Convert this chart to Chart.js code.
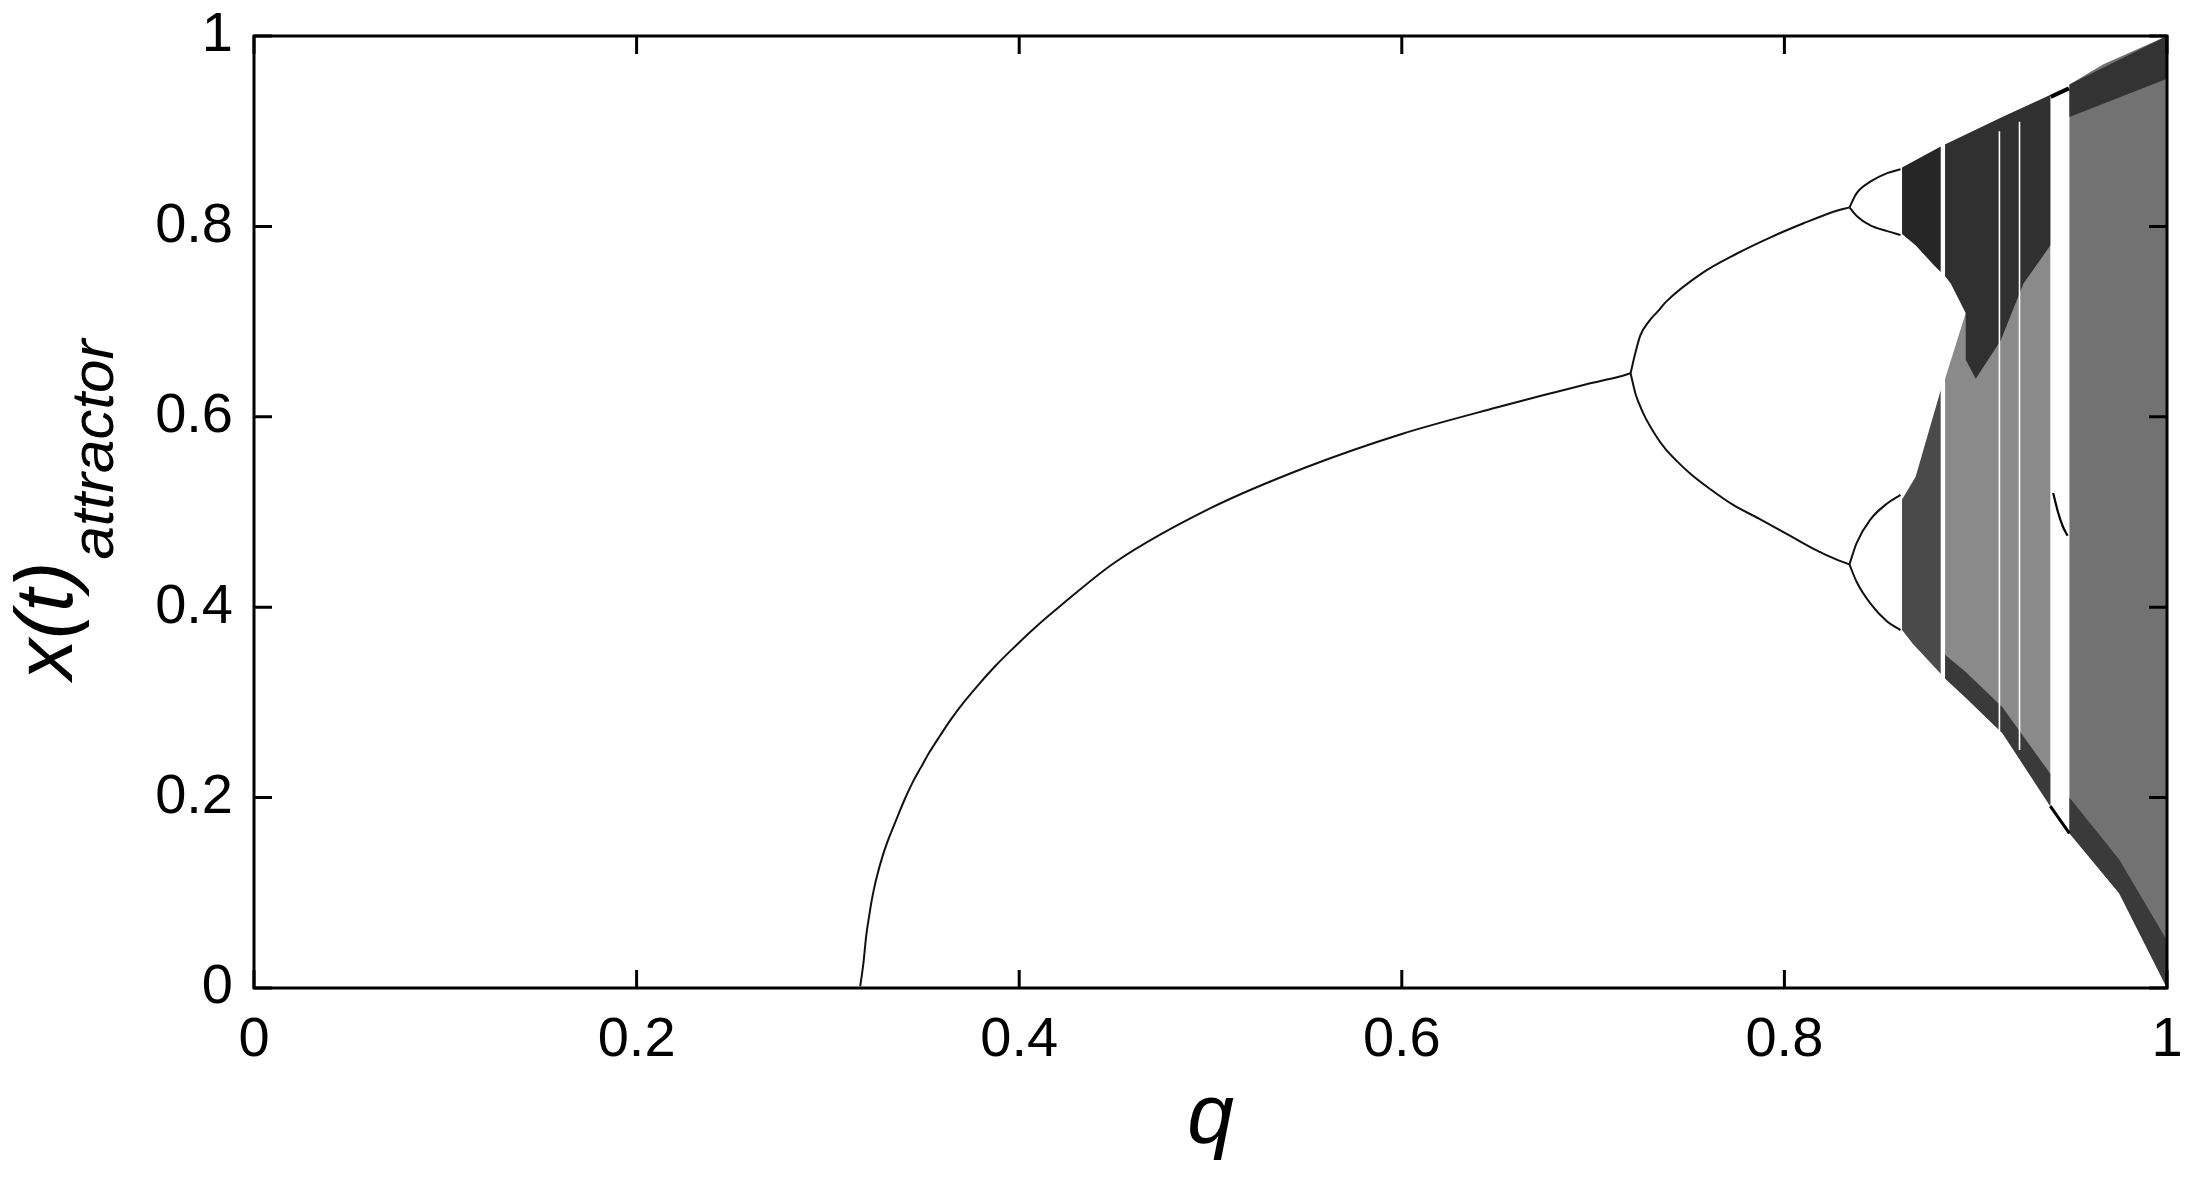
<!DOCTYPE html>
<html><head><meta charset="utf-8">
<script src="https://cdn.jsdelivr.net/npm/chart.js@4.4.1/dist/chart.umd.min.js"></script>
<style>html,body{margin:0;padding:0;background:#fff;}#wrap{width:2188px;height:1181px;position:relative;}</style>
</head><body><div id="wrap"><canvas id="c" width="2188" height="1181"></canvas></div>
<script>
// ---------- tick labels ----------
const tickValues = [0, 0.2, 0.4, 0.6, 0.8, 1];
const xTickLabels = ['0', '0.2', '0.4', '0.6', '0.8', '1'];
const yTickLabels = ['0', '0.2', '0.4', '0.6', '0.8', '1'];
const xTitle = 'q';
const yTitleMain = 'x(t)';
const yTitleSub = 'attractor';

// ---------- stable fixed point ----------
const fixedQ = [0.3169, 0.3185, 0.3201, 0.3216, 0.3229, 0.3243, 0.3257, 0.3285, 0.3314, 0.3346, 0.3374, 0.3401, 0.3443, 0.3487, 0.3529, 0.3586, 0.3646, 0.3714, 0.3789, 0.3874, 0.3974, 0.4085, 0.4213, 0.45, 0.50, 0.55, 0.60, 0.65, 0.6785, 0.696, 0.7134, 0.7196];
const fixedX = [0.002, 0.025, 0.056, 0.076, 0.092, 0.106, 0.118, 0.138, 0.155, 0.171, 0.185, 0.198, 0.216, 0.232, 0.247, 0.265, 0.283, 0.301, 0.319, 0.338, 0.358, 0.379, 0.401, 0.447, 0.504, 0.547, 0.582, 0.610, 0.625, 0.634, 0.642, 0.6457];

// ---------- period-2 branches ----------
const p2UpQ = [0.7196, 0.7222, 0.7248, 0.7291, 0.7344, 0.7382, 0.757, 0.7747, 0.7922, 0.8097, 0.8273, 0.834];
const p2UpX = [0.6457, 0.668, 0.686, 0.700, 0.712, 0.721, 0.751, 0.771, 0.788, 0.803, 0.8165, 0.820];
const p2LoQ = [0.7196, 0.7222, 0.724, 0.7266, 0.7295, 0.7335, 0.7379, 0.7435, 0.751, 0.7606, 0.7728, 0.7867, 0.8007, 0.8147, 0.8286, 0.834];
const p2LoX = [0.6457, 0.624, 0.614, 0.602, 0.591, 0.578, 0.566, 0.554, 0.540, 0.525, 0.508, 0.493, 0.4776, 0.4619, 0.4489, 0.445];

// ---------- period-4 branches ----------
const p4Q = [0.834, 0.8378, 0.8449, 0.8537, 0.8607];
const p4aX = [0.820, 0.835, 0.847, 0.856, 0.860];
const p4bX = [0.820, 0.811, 0.801, 0.795, 0.791];
const p4cX = [0.445, 0.4675, 0.492, 0.509, 0.518];
const p4dX = [0.445, 0.4264, 0.404, 0.385, 0.376];

// ---------- chaotic bands (outlines) ----------
const bandAUpQ = [0.8615, 0.8817, 0.8817, 0.8778, 0.8687, 0.8615];
const bandAUpX = [0.862, 0.884, 0.752, 0.760, 0.780, 0.792];
const bandALoQ = [0.8615, 0.8686, 0.8817, 0.8817, 0.867, 0.8615];
const bandALoX = [0.513, 0.537, 0.628, 0.330, 0.362, 0.376];
const bandBQ = [0.884, 0.914, 0.939, 0.939, 0.914, 0.8948, 0.884, 0.884, 0.8948, 0.887, 0.884];
const bandBX = [0.886, 0.915, 0.938, 0.191, 0.2675, 0.305, 0.325, 0.640, 0.709, 0.740, 0.748];
const bandCQ = [0.949, 0.9665, 1.0, 1.0, 0.975, 0.949];
const bandCX = [0.949, 0.970, 1.0, 0.0, 0.0995, 0.1625];
// denser zones
const darkBQ = [0.884, 0.914, 0.939, 0.939, 0.925, 0.913, 0.900, 0.8948, 0.8948, 0.887, 0.884];
const darkBX = [0.886, 0.915, 0.938, 0.780, 0.740, 0.680, 0.640, 0.660, 0.709, 0.740, 0.748];
const edgeBQ = [0.884, 0.8948, 0.914, 0.939, 0.939, 0.914, 0.8948, 0.884];
const edgeBX = [0.325, 0.305, 0.2675, 0.191, 0.225, 0.295, 0.332, 0.350];
const topCQ = [0.949, 1.0, 1.0, 0.949];
const topCX = [0.949, 1.0, 0.955, 0.915];
const edgeCQ = [0.949, 0.975, 1.0, 1.0, 0.975, 0.949];
const edgeCX = [0.1625, 0.0995, 0.0, 0.05, 0.135, 0.200];
// thin periodic windows
const gap1Q = [0.9124, 0.9124];
const gap1X = [0.27, 0.90];
const gap2Q = [0.9229, 0.9229];
const gap2X = [0.25, 0.91];
// orbit inside the large window
const winTopQ = [0.9392, 0.9487];
const winTopX = [0.936, 0.945];
const winMidQ = [0.9405, 0.943, 0.9455, 0.948];
const winMidX = [0.52, 0.50, 0.485, 0.475];
const winBotQ = [0.939, 0.949];
const winBotX = [0.191, 0.1625];

// ---------- helpers ----------
const FONT = '"Liberation Sans", Arial, Helvetica, sans-serif';
function pts(qs, xs) { return qs.map((q, i) => ({ x: q, y: xs[i] })); }
function curve(qs, xs, color, width, order, smooth) {
  const d = { type: 'line', data: pts(qs, xs), borderColor: color, borderWidth: width, pointRadius: 0, fill: false, order: order };
  if (smooth) d.cubicInterpolationMode = 'monotone';
  return d;
}
function area(qs, xs, color, order) {
  return { type: 'line', data: pts(qs, xs), borderWidth: 0, borderColor: color, backgroundColor: color, pointRadius: 0, fill: 'shape', order: order };
}

const datasets = [
  curve(fixedQ, fixedX, '#111', 2, 1, true),
  curve(p2UpQ, p2UpX, '#111', 2, 1, true),
  curve(p2LoQ, p2LoX, '#111', 2, 1, true),
  curve(p4Q, p4aX, '#111', 2, 1, true),
  curve(p4Q, p4bX, '#111', 2, 1, true),
  curve(p4Q, p4cX, '#111', 2, 1, true),
  curve(p4Q, p4dX, '#111', 2, 1, true),
  curve(winTopQ, winTopX, '#000', 4, 1, false),
  curve(winMidQ, winMidX, '#000', 2.2, 1, true),
  curve(winBotQ, winBotX, '#000', 3, 1, false),
  curve(gap1Q, gap1X, '#fff', 1.6, 2, false),
  curve(gap2Q, gap2X, '#fff', 1.6, 2, false),
  area(darkBQ, darkBX, '#303030', 5),
  area(edgeBQ, edgeBX, '#3a3a3a', 5),
  area(topCQ, topCX, '#333333', 5),
  area(edgeCQ, edgeCX, '#3a3a3a', 5),
  area(bandAUpQ, bandAUpX, '#262626', 10),
  area(bandALoQ, bandALoX, '#4a4a4a', 10),
  area(bandBQ, bandBX, '#8a8a8a', 10),
  area(bandCQ, bandCX, '#727272', 10)
];

function tickLabel(labels) {
  return function (v) {
    const i = tickValues.findIndex(t => Math.abs(t - v) < 1e-9);
    return i >= 0 ? labels[i] : '';
  };
}

const framePlugin = {
  id: 'frame',
  afterDraw(chart) {
    const { ctx, chartArea: { left, right, top, bottom }, scales: { x, y } } = chart;
    ctx.save();
    ctx.strokeStyle = '#000';
    ctx.lineWidth = 3;
    ctx.lineCap = 'butt';
    ctx.beginPath();
    tickValues.forEach(t => {
      const px = x.getPixelForValue(t);
      ctx.moveTo(px, bottom); ctx.lineTo(px, bottom - 18);
      ctx.moveTo(px, top); ctx.lineTo(px, top + 18);
      const py = y.getPixelForValue(t);
      ctx.moveTo(left, py); ctx.lineTo(left + 18, py);
      ctx.moveTo(right, py); ctx.lineTo(right - 18, py);
    });
    ctx.stroke();
    ctx.strokeRect(left, top, right - left, bottom - top);
    // y axis title with subscript
    ctx.fillStyle = '#000';
    ctx.translate(left - 182, 680);
    ctx.rotate(-Math.PI / 2);
    ctx.textAlign = 'left';
    ctx.textBaseline = 'alphabetic';
    ctx.font = 'italic 82px ' + FONT;
    ctx.fillText(yTitleMain, 0, 0);
    const w = ctx.measureText(yTitleMain).width;
    ctx.font = 'italic 60px ' + FONT;
    ctx.fillText(yTitleSub, w + 2, 41);
    ctx.restore();
  }
};

Chart.defaults.color = '#000';
Chart.defaults.font.family = FONT;

new Chart(document.getElementById('c'), {
  type: 'line',
  data: { datasets: datasets },
  options: {
    responsive: false,
    devicePixelRatio: 1,
    animation: false,
    events: [],
    layout: { padding: { top: 36, right: 21, left: 0, bottom: 0 } },
    plugins: { legend: { display: false }, tooltip: { enabled: false } },
    scales: {
      x: {
        type: 'linear', min: 0, max: 1, offset: false,
        grid: { display: false, drawTicks: false }, border: { display: false },
        ticks: { stepSize: 0.2, padding: 19, maxRotation: 0, autoSkip: false, color: '#000', font: { size: 56, family: FONT }, callback: tickLabel(xTickLabels) },
        title: { display: true, text: xTitle, color: '#000', font: { size: 84, style: 'italic', family: FONT }, padding: { top: 0, bottom: 11 } },
        afterFit(s) { s.height = 193; s.paddingLeft = 0; s.paddingRight = 0; }
      },
      y: {
        type: 'linear', min: 0, max: 1,
        grid: { display: false, drawTicks: false }, border: { display: false },
        ticks: { stepSize: 0.2, padding: 21, color: '#000', font: { size: 56, family: FONT }, callback: tickLabel(yTickLabels) },
        afterFit(s) { s.width = 254; s.paddingTop = 0; s.paddingBottom = 0; }
      }
    }
  },
  plugins: [framePlugin]
});
</script></body></html>
